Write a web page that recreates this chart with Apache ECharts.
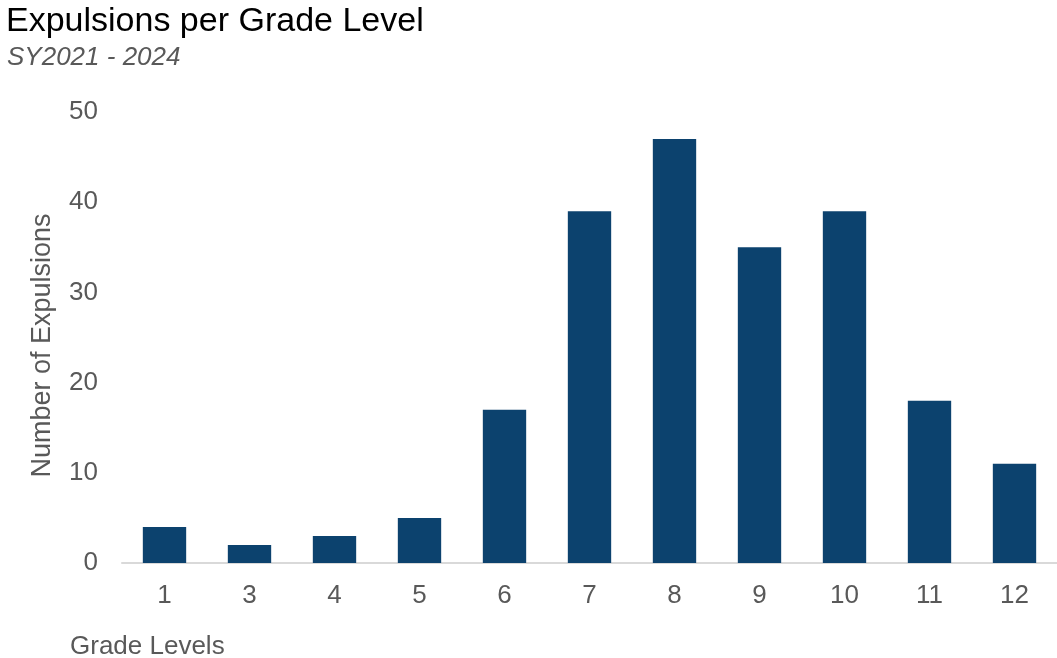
<!DOCTYPE html>
<html>
<head>
<meta charset="utf-8">
<script src="https://cdn.jsdelivr.net/npm/echarts@6/dist/echarts.min.js"></script>
<style>
html,body{margin:0;padding:0;background:#fff;}
#chart{width:1057px;height:658px;}
</style>
</head>
<body>
<div id="chart"></div>
<script>
// Expulsions per grade level, SY2021 - 2024
const grades = ['1', '3', '4', '5', '6', '7', '8', '9', '10', '11', '12'];
const expulsions = [4, 2, 3, 5, 17, 39, 47, 35, 39, 18, 11];
const yTicks = [0, 10, 20, 30, 40, 50];

const font = '"Liberation Sans", Arial, sans-serif';
const chart = echarts.init(document.getElementById('chart'));
chart.setOption({
  backgroundColor: '#ffffff',
  animation: false,
  title: [
    {
      text: 'Expulsions per Grade Level',
      left: 1, top: 0,
      textStyle: { fontFamily: font, fontSize: 34, fontWeight: 'normal', color: '#000000' }
    },
    {
      text: 'SY2021 - 2024',
      left: 2, top: 40,
      textStyle: { fontFamily: font, fontSize: 26, fontStyle: 'italic', fontWeight: 'normal', color: '#595959' }
    },
    {
      text: 'Grade Levels',
      left: 65, top: 629,
      textStyle: { fontFamily: font, fontSize: 26, fontWeight: 'normal', color: '#595959' }
    }
  ],
  grid: { left: 122, right: 0, top: 112, bottom: 95 },
  xAxis: {
    type: 'category',
    data: grades,
    axisLine: { lineStyle: { color: '#d9d9d9', width: 2 } },
    axisTick: { show: false },
    axisLabel: { fontFamily: font, fontSize: 26, color: '#595959', margin: 20 }
  },
  yAxis: {
    type: 'value',
    min: yTicks[0], max: yTicks[yTicks.length - 1], interval: 10,
    name: 'Number of Expulsions',
    nameLocation: 'middle',
    nameGap: 66,
    nameTextStyle: { fontFamily: font, fontSize: 27, color: '#595959', padding: [0, 16, 0, 0] },
    axisLine: { show: false },
    axisTick: { show: false },
    splitLine: { show: false },
    axisLabel: { fontFamily: font, fontSize: 26, color: '#595959', margin: 24 }
  },
  series: [{
    type: 'bar',
    data: expulsions,
    barWidth: '51%',
    itemStyle: { color: '#0c426e' }
  }]
});
</script>
</body>
</html>
